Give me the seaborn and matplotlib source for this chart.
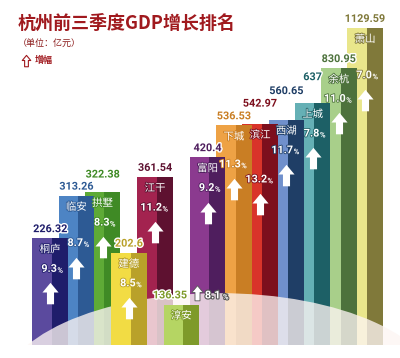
import numpy as np
import pandas as pd
import matplotlib
matplotlib.use('Agg')
import matplotlib.pyplot as plt
import matplotlib.patheffects as pe
from matplotlib.path import Path
from matplotlib.patches import Rectangle, Ellipse
from matplotlib.lines import Line2D
from matplotlib.transforms import Bbox, ScaledTranslation
import seaborn as sns

# data (left to right)
districts = ['桐庐', '临安', '拱墅', '建德', '江干', '淳安', '富阳',
             '下城', '滨江', '西湖', '上城', '余杭', '萧山']
gdp = [226.32, 313.26, 322.38, 202.6, 361.54, 136.35, 420.4,
       536.53, 542.97, 560.65, 637, 830.95, 1129.59]
growth = [9.3, 8.7, 8.3, 8.5, 11.2, 8.1, 9.2, 11.3, 13.2, 11.7, 7.8, 11.0, 7.0]

light_colors = ['#5b4a9e', '#4d84c4', '#5eaa36', '#f2dc44', '#a3234f', '#b5d563', '#8b3a8f',
                '#eea245', '#d9342a', '#7090cc', '#65b0b5', '#a8cf8a', '#e9e68b']
dark_colors = ['#1f1d6b', '#2d5a94', '#3f8a25', '#b9a12a', '#5e1130', '#7e9a2a', '#4f1e5e',
               '#c97e24', '#7d0f1d', '#1f3e66', '#1d6066', '#4d723c', '#80793a']

df = pd.DataFrame({'district': districts, 'gdp': gdp, 'growth': growth})

sns.set_theme(style='white')
plt.rcParams['font.family'] = ['Noto Sans CJK SC', 'DejaVu Sans']

fig = plt.figure(figsize=(4, 3.58), dpi=100)
ax = fig.add_axes([0, 0.036, 1, 0.936])
sns.barplot(data=df, x='district', y='gdp', hue='district', order=districts,
            hue_order=districts, palette=light_colors, width=1.35, saturation=1,
            linewidth=0, legend=False, ax=ax)
ax.set_yscale('log')
ax.set_ylim(100, 1297)
ax.set_xlim(-1.905, 13.33)
ax.axis('off')

# shorter bars stand in front, each bar gets a darker side face
bars = list(ax.patches)
rank = pd.Series(gdp).rank(ascending=False).astype(int).values
for p, r, dc in zip(bars, rank, dark_colors):
    p.set_zorder(r + 1)
    w = p.get_width()
    ax.add_patch(Rectangle((p.get_x() + 0.55 * w, p.get_y()), 0.45 * w, p.get_height(),
                           facecolor=dc, lw=0, zorder=r + 1.5))

# faded floor in front of the back bars
ax.add_patch(Ellipse((0.55, -0.145), 1.1, 0.6, transform=ax.transAxes, facecolor='#fdf5f3',
                     alpha=0.78, lw=0, zorder=len(gdp) - 0.2))

arrow = Path([(0, 0.9), (0.75, 0.0), (0.33, 0.0), (0.33, -1.1), (-0.33, -1.1),
              (-0.33, 0.0), (-0.75, 0.0), (0, 0.9)], closed=True)

renderer = fig.canvas.get_renderer()
to_pt = 72 / fig.dpi
base_y = ax.transData.transform((0, 100))[1]
num_font = 'Roboto'
boxes = []


def box_of(texts, pad=0):
    bb = Bbox.union([t.get_window_extent(renderer) for t in texts])
    return bb.padded(pad)


def free(bb):
    return not any(bb.overlaps(o) for o in boxes)


def place(texts, offsets, step, pad=0, limit=30):
    # shift a group of annotations vertically until it hits nothing placed yet
    for _ in range(limit):
        if free(box_of(texts, pad)):
            break
        for t, (ox, oy) in zip(texts, offsets):
            t.xyann = (ox, t.xyann[1] + step)
    boxes.append(box_of(texts, pad))
    return texts[0].xyann[1] - offsets[0][1]


info = []
for i, p in enumerate(bars):
    cx = p.get_x() + p.get_width() / 2
    top = p.get_height()
    X, Y = ax.transData.transform((cx, top))
    info.append((cx, top, (Y - base_y) < 80))

# value labels first, pushed up when they collide
for i, (cx, top, short) in enumerate(info):
    dc = dark_colors[i]
    stroke = [pe.withStroke(linewidth=2, foreground='white')]
    t = ax.annotate(f'{gdp[i]:g}', xy=(cx, top), xytext=(4 if short else 0, 3),
                    textcoords='offset points', ha='right' if short else 'center',
                    va='bottom', fontsize=7.8, fontweight='bold', color=dc,
                    family=num_font, zorder=30, path_effects=stroke)
    group = [t]
    offs = [(t.xyann[0], 3)]
    if short:
        grey = [pe.withStroke(linewidth=1.6, foreground='#555555')]
        g1 = ax.annotate(f'{growth[i]:.1f}', xy=(cx, top), xytext=(17, 3), textcoords='offset points',
                         ha='left', va='bottom', fontsize=7.8, fontweight='bold', color='white',
                         family=num_font, zorder=30, path_effects=grey)
        g2 = ax.annotate('%', xy=(cx, top), xytext=(30, 3), textcoords='offset points',
                         ha='left', va='bottom', fontsize=5.5, fontweight='bold', color='white',
                         family=num_font, zorder=30, path_effects=grey)
        group += [g1, g2]
        offs += [(17, 3), (30, 3)]
    dy = place(group, offs, 2, pad=1)
    if short:
        ax.plot(cx, top, marker=arrow, ms=12, color='white', mec='#555555', mew=0.6,
                transform=ax.transData + ScaledTranslation(11 / 72, (dy + 9) / 72,
                                                           fig.dpi_scale_trans), zorder=31)

# names, growth and arrows inside the bars, pushed down when they collide
for i, (cx, top, short) in enumerate(info):
    dc = dark_colors[i]
    white_fx = [pe.withStroke(linewidth=1.2, foreground=dc)]
    n = ax.annotate(districts[i], xy=(cx, top), xytext=(0, -8), textcoords='offset points',
                    ha='center', va='center', fontsize=7.5, color='white', zorder=30,
                    path_effects=white_fx)
    place([n], [(0, -8)], -2, pad=-3)
    if short:
        continue
    g1 = ax.annotate(f'{growth[i]:.1f}', xy=(cx, top), xytext=(5, -22), textcoords='offset points',
                     ha='right', va='center', fontsize=7.8, fontweight='bold', color='white',
                     family=num_font, zorder=30, path_effects=white_fx)
    g2 = ax.annotate('%', xy=(cx, top), xytext=(5.3, -23), textcoords='offset points',
                     ha='left', va='center', fontsize=5.5, fontweight='bold', color='white',
                     family=num_font, zorder=30, path_effects=white_fx)
    dy = place([g1, g2], [(5, -22), (5.3, -23)], -3, pad=1.5)
    ay = -22 + dy - 17
    X, Y = ax.transData.transform((cx, top))
    ab = Bbox.from_extents(X - 7, Y + ay / to_pt - 11, X + 7, Y + ay / to_pt + 11)
    for _ in range(20):
        if free(ab):
            break
        ay -= 2
        ab = Bbox.from_extents(X - 7, Y + ay / to_pt - 11, X + 7, Y + ay / to_pt + 11)
    boxes.append(ab)
    ax.plot(cx, top, marker=arrow, ms=17, color='white', mec='none',
            transform=ax.transData + ScaledTranslation(0, ay / 72, fig.dpi_scale_trans),
            zorder=31)

# title block
red = '#a0191e'
fig.text(0.045, 0.936, '杭州前三季度GDP增长排名', fontsize=13, fontweight='bold',
         color=red, va='center', ha='left')
fig.text(0.045, 0.88, '（单位：亿元）', fontsize=6.5, color='#8b1a1a', va='center', ha='left')
fig.add_artist(Line2D([0.065], [0.832], marker=arrow, ms=9, color='white', mec=red, mew=0.8,
                      transform=fig.transFigure))
fig.text(0.088, 0.832, '增幅', fontsize=6.5, fontweight='bold', color=red, va='center', ha='left')

fig.savefig('out.png', dpi=100)
